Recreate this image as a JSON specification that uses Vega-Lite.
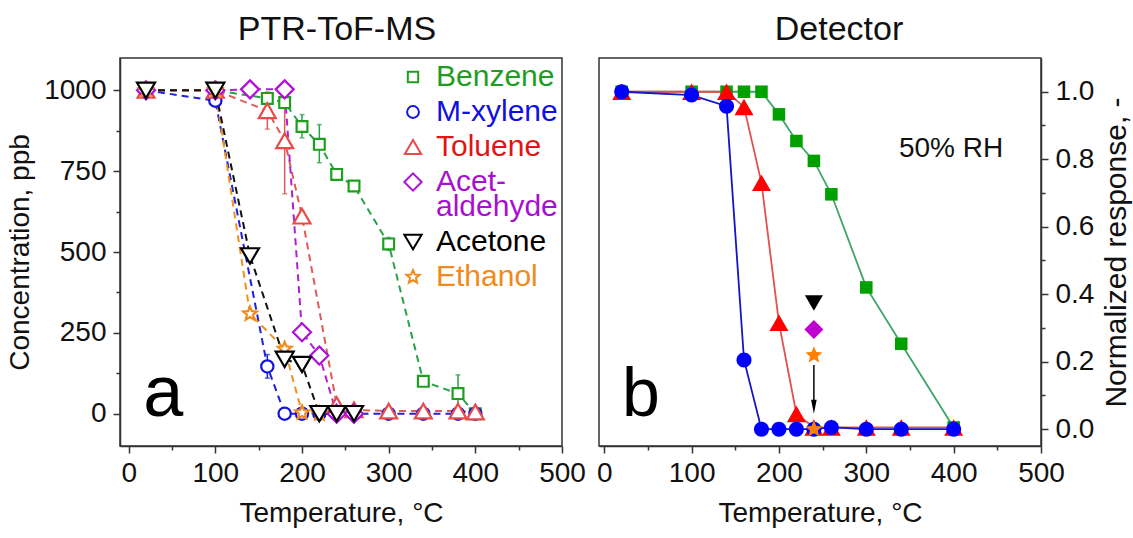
{
  "$schema": "https://vega.github.io/schema/vega-lite/v6.json",
  "background": "white",
  "padding": {"left": 5, "top": 12, "right": 2, "bottom": 5},
  "config": {
    "font": "Liberation Sans",
    "view": {"stroke": "#333333", "strokeWidth": 1.5},
    "axis": {"labelFontSize": 28, "titleFontSize": 28, "titleFontWeight": "normal", "labelColor": "#111111", "titleColor": "#111111", "domainColor": "#333333", "domainWidth": 1.5, "tickColor": "#333333", "tickWidth": 1.5, "grid": false, "labelFont": "Liberation Sans", "titleFont": "Liberation Sans", "labelOverlap": false, "labelFlush": false, "labelPadding": 6},
    "style": {"guide-label": {"lineHeight": 25}},
    "title": {"fontSize": 34, "fontWeight": "normal", "font": "Liberation Sans", "color": "#111111", "offset": 11},
    "concat": {"spacing": 8}
  },
  "datasets": {
    "ptr": [
      {"s": "Benzene", "T": 20, "C": 1000}, {"s": "Benzene", "T": 100, "C": 1000}, {"s": "Benzene", "T": 160, "C": 975}, {"s": "Benzene", "T": 180, "C": 962}, {"s": "Benzene", "T": 200, "C": 888}, {"s": "Benzene", "T": 220, "C": 833}, {"s": "Benzene", "T": 240, "C": 740}, {"s": "Benzene", "T": 260, "C": 704}, {"s": "Benzene", "T": 300, "C": 525}, {"s": "Benzene", "T": 340, "C": 100}, {"s": "Benzene", "T": 380, "C": 62}, {"s": "Benzene", "T": 400, "C": 0},
      {"s": "M-xylene", "T": 20, "C": 1000}, {"s": "M-xylene", "T": 100, "C": 968}, {"s": "M-xylene", "T": 160, "C": 146}, {"s": "M-xylene", "T": 180, "C": 0}, {"s": "M-xylene", "T": 200, "C": 0}, {"s": "M-xylene", "T": 220, "C": 0}, {"s": "M-xylene", "T": 240, "C": 0}, {"s": "M-xylene", "T": 260, "C": 0}, {"s": "M-xylene", "T": 300, "C": 0}, {"s": "M-xylene", "T": 340, "C": 0}, {"s": "M-xylene", "T": 380, "C": 0}, {"s": "M-xylene", "T": 400, "C": 0},
      {"s": "Toluene", "T": 20, "C": 1000}, {"s": "Toluene", "T": 100, "C": 1000}, {"s": "Toluene", "T": 160, "C": 937}, {"s": "Toluene", "T": 180, "C": 844}, {"s": "Toluene", "T": 200, "C": 611}, {"s": "Toluene", "T": 240, "C": 28}, {"s": "Toluene", "T": 260, "C": 12}, {"s": "Toluene", "T": 300, "C": 8}, {"s": "Toluene", "T": 340, "C": 8}, {"s": "Toluene", "T": 380, "C": 8}, {"s": "Toluene", "T": 400, "C": 5},
      {"s": "Acetaldehyde", "T": 20, "C": 1000}, {"s": "Acetaldehyde", "T": 100, "C": 1000}, {"s": "Acetaldehyde", "T": 140, "C": 1003}, {"s": "Acetaldehyde", "T": 180, "C": 1003}, {"s": "Acetaldehyde", "T": 200, "C": 252}, {"s": "Acetaldehyde", "T": 220, "C": 180}, {"s": "Acetaldehyde", "T": 240, "C": 0}, {"s": "Acetaldehyde", "T": 260, "C": 0},
      {"s": "Ethanol", "T": 20, "C": 1000}, {"s": "Ethanol", "T": 100, "C": 1000}, {"s": "Ethanol", "T": 140, "C": 309}, {"s": "Ethanol", "T": 180, "C": 200}, {"s": "Ethanol", "T": 200, "C": 3}, {"s": "Ethanol", "T": 220, "C": 0},
      {"s": "Acetone", "T": 20, "C": 1000}, {"s": "Acetone", "T": 100, "C": 1000}, {"s": "Acetone", "T": 140, "C": 488}, {"s": "Acetone", "T": 180, "C": 168}, {"s": "Acetone", "T": 200, "C": 152}, {"s": "Acetone", "T": 220, "C": 0}, {"s": "Acetone", "T": 240, "C": 0}, {"s": "Acetone", "T": 260, "C": 0}
    ],
    "err": [
      {"s": "Benzene", "T": 200, "C": 853, "hi": 925},
      {"s": "Benzene", "T": 220, "C": 776, "hi": 894},
      {"s": "Benzene", "T": 300, "C": 505, "hi": 545},
      {"s": "Benzene", "T": 380, "C": 5, "hi": 120},
      {"s": "Toluene", "T": 160, "C": 880, "hi": 995},
      {"s": "Toluene", "T": 180, "C": 680, "hi": 1000},
      {"s": "Toluene", "T": 200, "C": 595, "hi": 627},
      {"s": "M-xylene", "T": 160, "C": 110, "hi": 183},
      {"s": "Acetaldehyde", "T": 220, "C": 155, "hi": 205}
    ],
    "det": [
      {"s": "Benzene", "T": 20, "R": 1.0}, {"s": "Benzene", "T": 100, "R": 1.0}, {"s": "Benzene", "T": 140, "R": 1.0}, {"s": "Benzene", "T": 160, "R": 1.0}, {"s": "Benzene", "T": 180, "R": 1.0}, {"s": "Benzene", "T": 200, "R": 0.933}, {"s": "Benzene", "T": 220, "R": 0.854}, {"s": "Benzene", "T": 240, "R": 0.795}, {"s": "Benzene", "T": 260, "R": 0.696}, {"s": "Benzene", "T": 300, "R": 0.42}, {"s": "Benzene", "T": 340, "R": 0.253}, {"s": "Benzene", "T": 400, "R": 0.005},
      {"s": "Toluene", "T": 20, "R": 1.0}, {"s": "Toluene", "T": 100, "R": 1.0}, {"s": "Toluene", "T": 140, "R": 1.0}, {"s": "Toluene", "T": 160, "R": 0.955}, {"s": "Toluene", "T": 180, "R": 0.73}, {"s": "Toluene", "T": 200, "R": 0.315}, {"s": "Toluene", "T": 220, "R": 0.045}, {"s": "Toluene", "T": 240, "R": 0.005}, {"s": "Toluene", "T": 260, "R": 0.005}, {"s": "Toluene", "T": 300, "R": 0.005}, {"s": "Toluene", "T": 340, "R": 0.005}, {"s": "Toluene", "T": 400, "R": 0.005},
      {"s": "M-xylene", "T": 20, "R": 1.0}, {"s": "M-xylene", "T": 100, "R": 0.99}, {"s": "M-xylene", "T": 140, "R": 0.957}, {"s": "M-xylene", "T": 160, "R": 0.205}, {"s": "M-xylene", "T": 180, "R": 0.0}, {"s": "M-xylene", "T": 200, "R": 0.0}, {"s": "M-xylene", "T": 220, "R": 0.0}, {"s": "M-xylene", "T": 240, "R": 0.0}, {"s": "M-xylene", "T": 260, "R": 0.005}, {"s": "M-xylene", "T": 300, "R": 0.0}, {"s": "M-xylene", "T": 340, "R": 0.0}, {"s": "M-xylene", "T": 400, "R": 0.0},
      {"s": "Acetone", "T": 240, "R": 0.374},
      {"s": "Acetaldehyde", "T": 240, "R": 0.295},
      {"s": "Ethanol", "T": 240, "R": 0.219},
      {"s": "Ethanol", "T": 240, "R": 0.0}
    ]
  },
  "hconcat": [
    {
      "width": 442,
      "height": 388,
      "title": {"text": "PTR-ToF-MS", "dx": -4},
      "encoding": {
        "x": {"field": "T", "type": "quantitative", "scale": {"domain": [-10, 500], "nice": false, "zero": false},
          "axis": {"title": "Temperature, °C", "values": [0, 50, 100, 150, 200, 250, 300, 350, 400, 450, 500], "labelExpr": "datum.value % 100 === 0 ? datum.label : ''", "tickSize": {"condition": {"test": "datum.value % 100 === 0", "value": 7}, "value": 4}, "titlePadding": 12}},
        "y": {"field": "C", "type": "quantitative", "scale": {"domain": [-100, 1100], "nice": false, "zero": false},
          "axis": {"title": "Concentration, ppb", "format": "d", "values": [0, 125, 250, 375, 500, 625, 750, 875, 1000], "labelExpr": "datum.value % 250 === 0 ? datum.label : ''", "tickSize": {"condition": {"test": "datum.value % 250 === 0", "value": 7}, "value": 4}, "labelPadding": 7, "titlePadding": 9}}
      },
      "layer": [
        {
          "data": {"name": "err"},
          "mark": {"type": "errorbar", "ticks": true, "thickness": 1.5},
          "encoding": {
            "y2": {"field": "hi"},
            "color": {"field": "s", "type": "nominal", "legend": null,
              "scale": {"domain": ["Acetaldehyde", "Acetone", "Benzene", "Ethanol", "M-xylene", "Toluene"], "range": ["#b020d0", "#111111", "#2aa04a", "#f0901f", "#2020d8", "#e05a5a"]}}
          }
        },
        {
          "data": {"name": "ptr"},
          "mark": {"type": "line", "strokeDash": [7, 5], "strokeWidth": 2},
          "encoding": {
            "color": {"field": "s", "type": "nominal", "legend": null,
              "scale": {"domain": ["Acetaldehyde", "Acetone", "Benzene", "Ethanol", "M-xylene", "Toluene"], "range": ["#b020d0", "#111111", "#2aa04a", "#f0901f", "#2020d8", "#e05a5a"]}}
          }
        },
        {
          "data": {"name": "ptr"},
          "mark": {"type": "point", "filled": true, "fill": "white", "strokeWidth": 2.2, "opacity": 1, "size": 324},
          "encoding": {
            "stroke": {"field": "s", "type": "nominal", "title": null,
              "scale": {"domain": ["Benzene", "M-xylene", "Toluene", "Acetaldehyde", "Acetone", "Ethanol"], "range": ["#1ea01e", "#1414e0", "#e84a4a", "#b010d8", "#000000", "#f08a1a"]},
              "legend": {"orient": "top-right", "offset": 4, "padding": 0, "labelFontSize": 30, "labelFont": "Liberation Sans", "symbolSize": 300, "symbolStrokeWidth": 2, "symbolFillColor": "white", "rowPadding": 5, "labelOffset": 8,
                "labelExpr": "datum.label === 'Acetaldehyde' ? ['Acet-', 'aldehyde'] : datum.label",
                "labelColor": {"expr": "datum.value === 'Benzene' ? '#1e9e1e' : datum.value === 'M-xylene' ? '#1010e0' : datum.value === 'Toluene' ? '#e01515' : datum.value === 'Acetaldehyde' ? '#a810d0' : datum.value === 'Ethanol' ? '#f08a1a' : '#000000'"}}},
            "shape": {"field": "s", "type": "nominal", "title": null,
              "scale": {"domain": ["Benzene", "M-xylene", "Toluene", "Acetaldehyde", "Acetone", "Ethanol"], "range": ["M-0.6,-0.6L0.6,-0.6L0.6,0.6L-0.6,0.6Z", "M0.68,0A0.68,0.68,0,1,1,-0.68,0A0.68,0.68,0,1,1,0.68,0Z", "M0,-0.82L0.94,0.82L-0.94,0.82Z", "M0,-1L1,0L0,1L-1,0Z", "M0,0.85L1,-0.85L-1,-0.85Z", "M0,-0.8L0.212,-0.291L0.761,-0.247L0.342,0.111L0.47,0.647L0,0.36L-0.47,0.647L-0.342,0.111L-0.761,-0.247L-0.212,-0.291Z"]},
              "legend": {"orient": "top-right", "offset": 4, "padding": 0, "labelFontSize": 30, "labelFont": "Liberation Sans", "symbolSize": 300, "symbolStrokeWidth": 2, "symbolFillColor": "white", "rowPadding": 5, "labelOffset": 8,
                "labelExpr": "datum.label === 'Acetaldehyde' ? ['Acet-', 'aldehyde'] : datum.label",
                "labelColor": {"expr": "datum.value === 'Benzene' ? '#1e9e1e' : datum.value === 'M-xylene' ? '#1010e0' : datum.value === 'Toluene' ? '#e01515' : datum.value === 'Acetaldehyde' ? '#a810d0' : datum.value === 'Ethanol' ? '#f08a1a' : '#000000'"}}}
          }
        },
        {
          "data": {"values": [{"T": 40, "C": -6, "label": "a"}]},
          "mark": {"type": "text", "fontSize": 72, "align": "center", "baseline": "alphabetic", "font": "Liberation Sans", "color": "#000000"},
          "encoding": {"text": {"field": "label"}}
        }
      ]
    },
    {
      "width": 442,
      "height": 388,
      "title": {"text": "Detector", "dx": 19},
      "encoding": {
        "x": {"field": "T", "type": "quantitative", "scale": {"domain": [-6, 500], "nice": false, "zero": false},
          "axis": {"title": "Temperature, °C", "values": [0, 50, 100, 150, 200, 250, 300, 350, 400, 450, 500], "labelExpr": "datum.value % 100 === 0 ? datum.label : ''", "tickSize": {"condition": {"test": "datum.value % 100 === 0", "value": 7}, "value": 4}, "titlePadding": 12}},
        "y": {"field": "R", "type": "quantitative", "scale": {"domain": [-0.05, 1.1], "nice": false, "zero": false},
          "axis": {"orient": "right", "title": "Normalized response, -", "titleFontSize": 30, "titleAngle": 270, "titleBaseline": "top", "values": [0, 0.1, 0.2, 0.3, 0.4, 0.5, 0.6, 0.7, 0.8, 0.9, 1.0], "labelExpr": "round(datum.value * 10) % 2 === 0 ? format(datum.value, '.1f') : ''", "tickSize": {"condition": {"test": "round(datum.value * 10) % 2 === 0", "value": 7}, "value": 4}, "labelPadding": 7, "titlePadding": 8}}
      },
      "layer": [
        {
          "data": {"name": "det"},
          "transform": [{"filter": "datum.s === 'Benzene' || datum.s === 'Toluene' || datum.s === 'M-xylene'"}],
          "mark": {"type": "line", "strokeWidth": 1.8},
          "encoding": {
            "color": {"field": "s", "type": "nominal", "legend": null,
              "scale": {"domain": ["Benzene", "Toluene", "M-xylene"], "range": ["#3fa46b", "#e25050", "#1515c8"]}}
          }
        },
        {
          "data": {"values": [{"T": 240, "R": 0.19, "R2": 0.07}]},
          "mark": {"type": "rule", "color": "#000000", "strokeWidth": 1.5},
          "encoding": {"y2": {"field": "R2"}}
        },
        {
          "data": {"values": [{"T": 240, "R": 0.066}]},
          "mark": {"type": "point", "filled": true, "opacity": 1, "color": "#000000", "shape": "M-0.4,-1L0,1L0.4,-1Z", "size": 196}
        },
        {
          "data": {"name": "det"},
          "mark": {"type": "point", "filled": true, "opacity": 1, "strokeWidth": 0, "size": 361},
          "encoding": {
            "fill": {"field": "s", "type": "nominal", "legend": null,
              "scale": {"domain": ["Benzene", "Toluene", "M-xylene", "Acetone", "Acetaldehyde", "Ethanol"], "range": ["#00a000", "#ff0000", "#0000ff", "#000000", "#c000d0", "#ff8000"]}},
            "shape": {"field": "s", "type": "nominal", "legend": null,
              "scale": {"domain": ["Benzene", "Toluene", "M-xylene", "Acetone", "Acetaldehyde", "Ethanol"], "range": ["M-0.66,-0.66L0.66,-0.66L0.66,0.66L-0.66,0.66Z", "M0,-0.87L1,0.87L-1,0.87Z", "M0.79,0A0.79,0.79,0,1,1,-0.79,0A0.79,0.79,0,1,1,0.79,0Z", "M0,0.82L0.95,-0.82L-0.95,-0.82Z", "M0,-1L1,0L0,1L-1,0Z", "M0,-0.94L0.249,-0.342L0.894,-0.29L0.402,0.131L0.553,0.76L0,0.423L-0.553,0.76L-0.402,0.131L-0.894,-0.29L-0.249,-0.342Z"]}}
          }
        },
        {
          "data": {"values": [{"T": 397, "R": 0.83, "label": "50% RH"}]},
          "mark": {"type": "text", "fontSize": 28, "align": "center", "baseline": "middle", "font": "Liberation Sans", "color": "#111111"},
          "encoding": {"text": {"field": "label"}}
        },
        {
          "data": {"values": [{"T": 42, "R": 0.04, "label": "b"}]},
          "mark": {"type": "text", "fontSize": 68, "align": "center", "baseline": "alphabetic", "font": "Liberation Sans", "color": "#000000"},
          "encoding": {"text": {"field": "label"}}
        }
      ]
    }
  ],
  "resolve": {
    "scale": {"x": "independent", "y": "independent", "color": "independent", "fill": "independent", "stroke": "independent", "shape": "independent"},
    "legend": {"color": "independent", "fill": "independent", "stroke": "independent", "shape": "independent"}
  }
}
